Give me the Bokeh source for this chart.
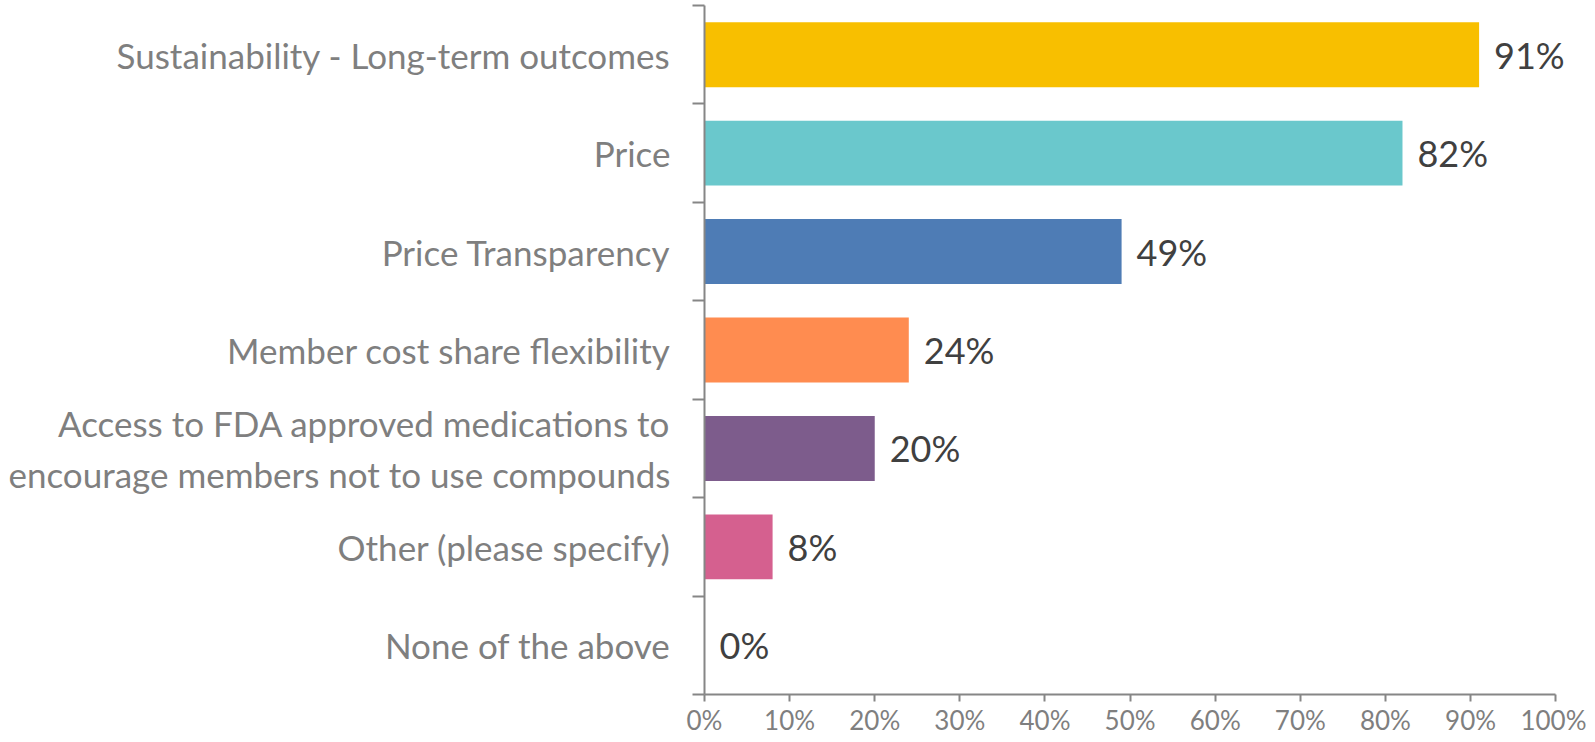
from bokeh.plotting import figure
from bokeh.models import FixedTicker, Range1d, ColumnDataSource, LabelSet
from bokeh.core.properties import value
from bokeh.embed import file_html
from bokeh.resources import INLINE

categories = [
    "Sustainability - Long-term outcomes",
    "Price",
    "Price Transparency",
    "Member cost share flexibility",
    "Access to FDA approved medications to\nencourage members not to use compounds",
    "Other (please specify)",
    "None of the above",
]
values = [91, 82, 49, 24, 20, 8, 0]
colors = ["#F8BF00", "#6AC8CC", "#4E7CB5", "#FF8C50", "#7D5C8C", "#D5608F", "#BBBBBB"]
x_ticks = [0, 10, 20, 30, 40, 50, 60, 70, 80, 90, 100]

FONT = "Lato"
n = len(categories)
ypos = [n - 1 - i for i in range(n)]

p = figure(width=1586, height=738, output_backend="svg", toolbar_location=None,
           x_range=Range1d(0, 103.5), y_range=Range1d(-0.5, n - 0.5),
           min_border_left=704, min_border_right=1, min_border_top=5, min_border_bottom=40)
p.outline_line_color = None
p.xgrid.grid_line_color = None
p.ygrid.grid_line_color = None

src = ColumnDataSource(dict(y=ypos, v=values, c=colors, t=[f"{v}%" for v in values]))
p.hbar(y="y", right="v", left=0, height=0.66, color="c", line_color=None, source=src)
labels = LabelSet(x="v", y="y", text="t", x_offset=15, source=src, level="overlay",
                  text_baseline="middle", text_align="left", text_font=value(FONT),
                  text_font_size="36px", text_color="#404040")
p.add_layout(labels)

axis_color = "#868686"
label_color = "#7F7F7F"

yax = p.yaxis[0]
yax.ticker = FixedTicker(ticks=ypos, minor_ticks=[y + 0.5 for y in range(-1, n)])
yax.major_label_overrides = {y: c for y, c in zip(ypos, categories)}
yax.major_tick_out = 0
yax.major_tick_in = 0
yax.minor_tick_out = 12
yax.minor_tick_in = 0
yax.minor_tick_line_color = axis_color
yax.minor_tick_line_width = 2
yax.axis_line_color = axis_color
yax.axis_line_width = 2
yax.major_label_text_font = FONT
yax.major_label_text_font_size = "35px"
yax.major_label_text_color = label_color
yax.major_label_standoff = 22

xax = p.xaxis[0]
xax.ticker = FixedTicker(ticks=x_ticks)
xax.bounds = (x_ticks[0], x_ticks[-1])
xax.major_label_overrides = {t: f"{t}%" for t in x_ticks}
xax.major_tick_out = 7
xax.major_tick_in = 0
xax.minor_tick_out = 0
xax.minor_tick_in = 0
xax.major_tick_line_color = axis_color
xax.major_tick_line_width = 2
xax.axis_line_color = axis_color
xax.axis_line_width = 2
xax.major_label_text_font = FONT
xax.major_label_text_font_size = "26px"
xax.major_label_text_color = label_color
xax.major_label_standoff = 2

open("out.html", "w").write(file_html(p, INLINE))
